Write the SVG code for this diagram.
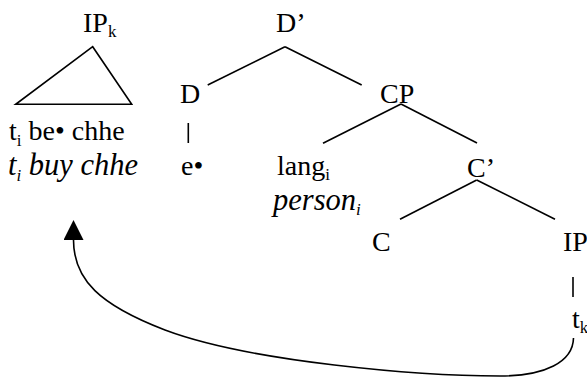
<svg xmlns="http://www.w3.org/2000/svg" width="587" height="378" viewBox="0 0 587 378">
  <style>
    text { font-family: "Liberation Serif", "Times New Roman", serif; font-size: 28px; fill: #000; }
    .it { font-style: italic; font-size: 30.5px; }
    .sub { font-size: 17px; }
    .edge { stroke: #000; stroke-width: 1.6; fill: none; }
  </style>
  <defs>
    <marker id="arrowhead" markerUnits="userSpaceOnUse" markerWidth="20" markerHeight="20" viewBox="0 0 20 20" refX="0" refY="10" orient="auto">
      <path d="M0,0 L20,10 L0,20 z" fill="#000"/>
    </marker>
  </defs>

  <!-- moved IP, drawn as a triangle over its string -->
  <g id="ip-k">
    <text x="83" y="32">IP<tspan class="sub" dy="5">k</tspan></text>
    <polygon class="edge" points="92.7,46.7 15.7,104.3 131.7,104.3"/>
    <text x="9" y="140">t<tspan class="sub" dy="6">i</tspan><tspan dy="-6"> be• chhe</tspan></text>
    <text class="it" x="8" y="175">t<tspan class="sub" dy="6">i</tspan><tspan dy="-6"> buy chhe</tspan></text>
  </g>

  <g id="d-bar"><text x="276" y="32">D’</text></g>
  <g id="d"><text x="180" y="103">D</text></g>
  <g id="d-word"><text x="181" y="175">e•</text></g>
  <g id="cp"><text x="380" y="103">CP</text></g>
  <g id="lang">
    <text x="277" y="175">lang<tspan class="sub" dy="5">i</tspan></text>
    <text class="it" x="273" y="210">person<tspan class="sub" dy="5">i</tspan></text>
  </g>
  <g id="c-bar"><text x="467" y="177">C’</text></g>
  <g id="c"><text x="372" y="251">C</text></g>
  <g id="ip"><text x="563" y="251">IP</text></g>
  <g id="trace"><text x="572" y="328">t<tspan class="sub" dy="5">k</tspan></text></g>

  <g id="connectors">
    <line class="edge" x1="207.7" y1="85" x2="285" y2="46.7"/>
    <line class="edge" x1="285" y1="46.7" x2="361.7" y2="85"/>
    <line class="edge" x1="188.3" y1="123" x2="188.3" y2="143"/>
    <line class="edge" x1="401" y1="104" x2="323" y2="143.3"/>
    <line class="edge" x1="401" y1="104" x2="477" y2="143"/>
    <line class="edge" x1="476.7" y1="180" x2="400" y2="219.3"/>
    <line class="edge" x1="476.7" y1="180" x2="555" y2="219.3"/>
    <line class="edge" x1="573" y1="277" x2="573" y2="297"/>
    <path class="edge" marker-end="url(#arrowhead)" d="M573.5,338 C573,362 545,376 500,376 C420,376 250,362 165,330 C100,305 73.5,280 73.5,240"/>
  </g>
</svg>
